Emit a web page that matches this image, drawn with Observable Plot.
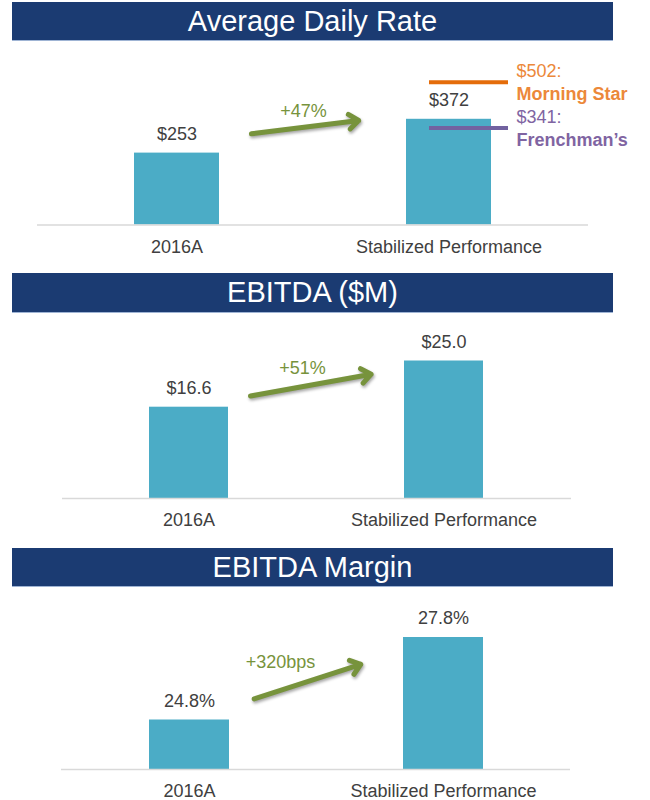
<!DOCTYPE html>
<html><head><meta charset="utf-8">
<script src="https://cdn.jsdelivr.net/npm/d3@7"></script>
<script src="https://cdn.jsdelivr.net/npm/@observablehq/plot@0.6"></script>
<style>
body{margin:0;background:#fff;width:650px;font-family:"Liberation Sans",Arial,sans-serif;overflow:hidden;}
.hdr{margin-left:12px;width:601px;background:#1b3b72;color:#fff;text-align:center;font-size:29px;box-shadow:0 1px 0 #9fb4d4;}
svg{display:block}
g[aria-label="arrow"]{filter:drop-shadow(1px 2px 1.5px rgba(0,0,0,0.35));}
</style></head><body>
<div style="height:2px"></div>
<div class="hdr" style="height:38px;line-height:38px">Average Daily Rate</div>
<div id="c1"></div>
<div class="hdr" style="height:39px;line-height:39px">EBITDA ($M)</div>
<div id="c2"></div>
<div class="hdr" style="height:38px;line-height:38px">EBITDA Margin</div>
<div id="c3"></div>
<script>
const categories = ["2016A", "Stabilized Performance"];
const adrValues = [253, 372];
const ebitdaValues = [16.6, 25.0];
const marginValues = [24.8, 27.8];
const marginAxisStart = 23;
const benchmarkNames = ["Morning Star", "Frenchman’s"];
const benchmarkValues = [502, 341];
const benchmarkLineColors = ["#e46c0a", "#7262a0"];
const benchmarkTextColors = ["#ec883a", "#8064a2"];
const growthLabels = ["+47%", "+51%", "+320bps"];

const FONT = '"Liberation Sans", Arial, sans-serif';

function panel(o) {
  const data = categories.map((c, i) => ({cat: c, v: o.values[i]}));
  const arrowData = [{c1: categories[0], c2: categories[1], v1: o.values[0], v2: o.values[1], label: o.growth}];
  return Plot.plot({
    width: 650, height: o.height,
    marginTop: o.marginTop, marginBottom: o.marginBottom,
    marginLeft: o.marginLeft, marginRight: o.marginRight,
    style: {fontFamily: FONT, fontSize: "18px", color: "#404040", background: "transparent", overflow: "visible"},
    x: {domain: categories, paddingInner: o.pi, paddingOuter: o.po, tickSize: 0, tickPadding: 15, label: null},
    y: {domain: o.yDomain, axis: null},
    color: {type: "identity"},
    marks: [
      Plot.barY(data, {x: "cat", y1: o.base, y2: "v", fill: "#4bacc6"}),
      Plot.ruleY([o.base], {stroke: "#d9d9d9", strokeWidth: 1.5}),
      Plot.text(data, {x: "cat", y: "v", text: d => o.fmt(d.v), dy: -19, fill: "#404040", fontSize: 18}),
      Plot.arrow(arrowData, {x1: "c1", y1: "v1", x2: "c2", y2: "v2", stroke: "#77933c", strokeWidth: 5,
        headLength: 3.6, headAngle: 75, insetStart: o.insetStart, insetEnd: o.insetEnd, dy: o.arrowDy}),
      Plot.text(arrowData, {x: "c2", y: "v2", text: "label", dx: o.labelDx, dy: o.labelDy, fill: "#77933c", fontSize: 18}),
      ...(o.extra || [])
    ]
  });
}

const bench = benchmarkNames.map((n, i) => ({cat: categories[1], name: n, v: benchmarkValues[i],
  line: benchmarkLineColors[i], txt: benchmarkTextColors[i]}));

const benchMarks = [
  Plot.tickY(bench, {x: "cat", y: "v", stroke: "line", strokeWidth: 4, insetLeft: 23, insetRight: -17}),
  Plot.text(bench, {x: "cat", y: "v", text: d => `$${d.v}:`, dx: 67.5, dy: -11, textAnchor: "start", fill: "txt", fontSize: 18}),
  Plot.text(bench, {x: "cat", y: "v", text: "name", dx: 67.5, dy: 12, textAnchor: "start", fill: "txt", fontSize: 18, fontWeight: "bold"})
];

document.getElementById("c1").append(panel({
  values: adrValues, fmt: d => "$" + d, yDomain: [0, 600], base: 0,
  height: 233, marginTop: 14, marginBottom: 48.5, marginLeft: 37, marginRight: 62,
  pi: 0.689, po: 0.354, insetStart: 75, insetEnd: 91, arrowDy: -10,
  growth: growthLabels[0], labelDx: -145.5, labelDy: -8, extra: benchMarks
}));

document.getElementById("c2").append(panel({
  values: ebitdaValues, fmt: d => "$" + d.toFixed(1), yDomain: [0, 30], base: 0,
  height: 236, marginTop: 21, marginBottom: 50, marginLeft: 62, marginRight: 79,
  pi: 0.69, po: 0.343, insetStart: 62.5, insetEnd: 74, arrowDy: 0,
  growth: growthLabels[1], labelDx: -141.5, labelDy: 7
}));

document.getElementById("c3").append(panel({
  values: marginValues, fmt: d => d.toFixed(1) + "%", yDomain: [marginAxisStart, 29], base: marginAxisStart,
  height: 214, marginTop: 18, marginBottom: 31, marginLeft: 61, marginRight: 80,
  pi: 0.687, po: 0.343, insetStart: 68, insetEnd: 87, arrowDy: 0,
  growth: growthLabels[2], labelDx: -163, labelDy: 25
}));
</script>
</body></html>
